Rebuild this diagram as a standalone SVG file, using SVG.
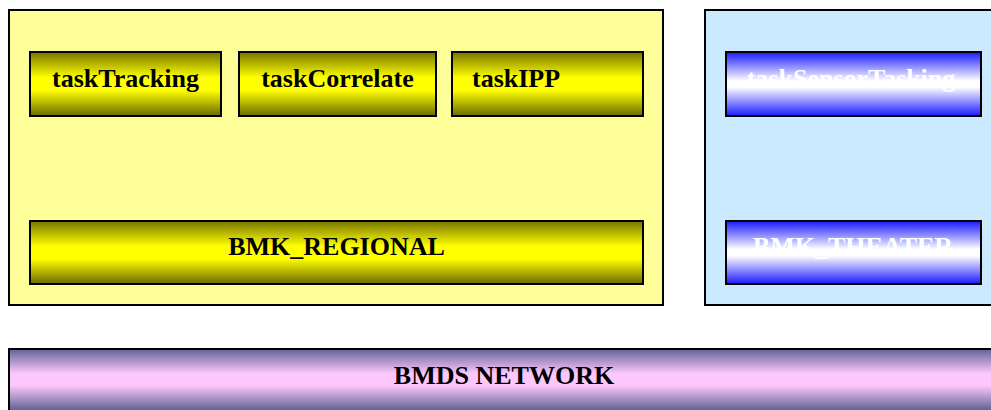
<svg xmlns="http://www.w3.org/2000/svg" width="991" height="410" viewBox="0 0 991 410">
  <defs>
    <linearGradient id="gYellow" x1="0" y1="0" x2="0" y2="1">
      <stop offset="0" stop-color="#767600"/>
      <stop offset="0.4" stop-color="#ffff00"/>
      <stop offset="0.6" stop-color="#ffff00"/>
      <stop offset="1" stop-color="#6a6a00"/>
    </linearGradient>
    <linearGradient id="gBlue" x1="0" y1="0" x2="0" y2="1">
      <stop offset="0" stop-color="#1a1aff"/>
      <stop offset="0.45" stop-color="#ffffff"/>
      <stop offset="0.55" stop-color="#ffffff"/>
      <stop offset="1" stop-color="#1a1aff"/>
    </linearGradient>
    <linearGradient id="gPurple" gradientUnits="userSpaceOnUse" x1="0" y1="350" x2="0" y2="409">
      <stop offset="0" stop-color="#67679a"/>
      <stop offset="0.4" stop-color="#fcc8fc"/>
      <stop offset="0.6" stop-color="#fcc8fc"/>
      <stop offset="1" stop-color="#67679a"/>
    </linearGradient>
  </defs>
  <style>
    .shadow { fill: #888888; }
    .container { stroke: #000000; stroke-width: 2; }
    .node { stroke: #000000; stroke-width: 2; }
    .label { font-family: "Liberation Serif", "Times New Roman", serif; font-weight: bold; font-size: 26px; }
    .dark { fill: #000000; }
    .light { fill: #ffffff; }
  </style>

  <rect width="991" height="410" fill="#ffffff"/>

  <!-- regional container -->
  <g id="regional">
    <rect class="shadow" x="10" y="11" width="654" height="295"/>
    <rect class="container" x="9" y="10" width="654" height="295" fill="#ffff99"/>
  </g>

  <!-- theater container -->
  <g id="theater">
    <rect class="shadow" x="706" y="11" width="300" height="295"/>
    <rect class="container" x="705" y="10" width="300" height="295" fill="#cceaff"/>
  </g>

  <g id="taskTracking">
    <rect class="shadow" x="31" y="53" width="191" height="64"/>
    <rect class="node" x="30" y="52" width="191" height="64" fill="url(#gYellow)"/>
    <text class="label dark" x="125.5" y="87" text-anchor="middle">taskTracking</text>
  </g>

  <g id="taskCorrelate">
    <rect class="shadow" x="240" y="53" width="197" height="64"/>
    <rect class="node" x="239" y="52" width="197" height="64" fill="url(#gYellow)"/>
    <text class="label dark" x="337.5" y="87" text-anchor="middle">taskCorrelate</text>
  </g>

  <g id="taskIPP">
    <rect class="shadow" x="453" y="53" width="191" height="64"/>
    <rect class="node" x="452" y="52" width="191" height="64" fill="url(#gYellow)"/>
    <text class="label dark" x="472" y="87">taskIPP</text>
  </g>

  <g id="BMK_REGIONAL">
    <rect class="shadow" x="31" y="222" width="613" height="63"/>
    <rect class="node" x="30" y="221" width="613" height="63" fill="url(#gYellow)"/>
    <text class="label dark" x="336.5" y="255" text-anchor="middle">BMK_REGIONAL</text>
  </g>

  <g id="taskSensorTasking">
    <rect class="shadow" x="727" y="53" width="255" height="64"/>
    <rect class="node" x="726" y="52" width="255" height="64" fill="url(#gBlue)"/>
    <text class="label light" x="851" y="87" text-anchor="middle">taskSensorTasking</text>
  </g>

  <g id="BMK_THEATER">
    <rect class="shadow" x="727" y="222" width="255" height="63"/>
    <rect class="node" x="726" y="221" width="255" height="63" fill="url(#gBlue)"/>
    <text class="label light" x="853" y="255" text-anchor="middle">BMK_THEATER</text>
  </g>

  <g id="BMDS_NETWORK">
    <rect class="shadow" x="10" y="350" width="1000" height="80"/>
    <rect class="node" x="9" y="349" width="1000" height="80" fill="url(#gPurple)"/>
    <text class="label dark" x="504" y="384" text-anchor="middle">BMDS NETWORK</text>
  </g>

  <g id="connectors"/>
</svg>
